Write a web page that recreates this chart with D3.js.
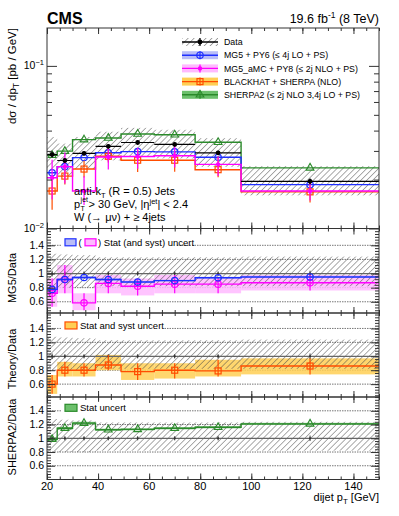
<!DOCTYPE html>
<html>
<head>
<meta charset="utf-8">
<script src="https://cdn.jsdelivr.net/npm/d3@7"></script>
<style>
  body { margin: 0; background: #fff; }
  svg text { font-family: "Liberation Sans", Arial, Helvetica, sans-serif; fill: #000; }
</style>
</head>
<body>
<svg id="chart" width="399" height="516"></svg>
<script>
// dijet pT bins [GeV]
const binEdges = [20, 24, 30, 39, 49, 62, 78, 96, 150];

// main panel: dsigma/dpT [pb/GeV]
const dataXsec = [0.0285, 0.0262, 0.0290, 0.0320, 0.0338, 0.0329, 0.0292, 0.0195];
const dataStat = [0.04, 0.03, 0.03, 0.03, 0.03, 0.03, 0.03, 0.04];
const dataSystUp = [0.28, 0.27, 0.26, 0.23, 0.23, 0.23, 0.23, 0.24];
const dataSystDown = [0.20, 0.20, 0.20, 0.18, 0.18, 0.18, 0.18, 0.18];
const mg5Xsec = [0.0220, 0.0240, 0.0273, 0.0292, 0.0297, 0.0296, 0.0274, 0.0186];
const amcXsec = [0.0205, 0.0240, 0.0170, 0.0275, 0.0277, 0.0280, 0.0248, 0.0170];
const bhXsec = [0.0170, 0.0210, 0.0232, 0.0278, 0.0263, 0.0263, 0.0230, 0.0168];
const sh2Xsec = [0.0282, 0.0299, 0.0352, 0.0360, 0.0381, 0.0377, 0.0339, 0.0236];

// ratio panels: theory / data
const mg5Ratio = [0.775, 0.915, 0.944, 0.915, 0.88, 0.90, 0.94, 0.952];
const mg5Stat = [0.03, 0.02, 0.02, 0.02, 0.015, 0.015, 0.015, 0.015];
const amcRatio = [0.72, 0.915, 0.585, 0.86, 0.82, 0.85, 0.85, 0.87];
const amcLow = [0.53, 0.72, 0.48, 0.72, 0.69, 0.72, 0.72, 0.76];
const amcHigh = [0.93, 1.12, 0.72, 0.98, 0.93, 0.98, 0.95, 0.98];
const bhRatio = [0.60, 0.80, 0.80, 0.875, 0.78, 0.80, 0.79, 0.86];
const bhLow = [0.46, 0.71, 0.71, 0.80, 0.66, 0.68, 0.71, 0.74];
const bhHigh = [0.73, 0.92, 0.90, 1.02, 0.90, 0.90, 0.95, 0.97];
const sh2Ratio = [0.985, 1.145, 1.22, 1.125, 1.13, 1.145, 1.16, 1.21];
const sh2Stat = [0.025, 0.02, 0.02, 0.015, 0.015, 0.015, 0.015, 0.015];

const xMajor = [20, 40, 60, 80, 100, 120, 140];
const ratioMajor = [0.6, 0.8, 1, 1.2, 1.4];

const legendLabels = [
  "Data",
  "MG5 + PY6 (\u2264 4j LO + PS)",
  "MG5_aMC + PY8 (\u2264 2j NLO + PS)",
  "BLACKHAT + SHERPA (NLO)",
  "SHERPA2 (\u2264 2j NLO 3,4j LO + PS)",
];

const col = {
  mg5: "#1f2fff", mg5Fill: "#b9bdf7",
  amc: "#ff00ff", amcFill: "#ffbaff",
  bh: "#ff4d00", bhFill: "#ffcf55",
  sh2: "#2a8a2a", sh2Fill: "#6cc06c",
};

const left = 47, right = 379;
const mainTop = 28, mainBottom = 228.5;
const panels = [
  { top: 228.5, bottom: 313, domain: [0.441, 1.638], label: "MG5/Data", labelY: 278 },
  { top: 313, bottom: 397, domain: [0.415, 1.622], label: "Theory/Data", labelY: 359 },
  { top: 397, bottom: 479.5, domain: [0.40, 1.601], label: "SHERPA2/Data", labelY: 437 },
];

const svg = d3.select("#chart");
const defs = svg.append("defs");
const pat = defs.append("pattern").attr("id", "hatch")
  .attr("patternUnits", "userSpaceOnUse")
  .attr("width", 4.2).attr("height", 4.2)
  .attr("patternTransform", "rotate(45)");
pat.append("line").attr("x1", 0).attr("y1", 0).attr("x2", 0).attr("y2", 4.2)
  .attr("stroke", "#444").attr("stroke-width", 0.9);

const x = d3.scaleLinear().domain([20, 150]).range([left, right]);
const bins = d3.range(binEdges.length - 1).map(i => ({
  i, lo: binEdges[i], hi: binEdges[i + 1], c: (binEdges[i] + binEdges[i + 1]) / 2,
}));

function stepPoints(vals) {
  const pts = [];
  vals.forEach((v, i) => { pts.push([binEdges[i], v]); pts.push([binEdges[i + 1], v]); });
  return pts;
}

function clipFor(id, top, bottom) {
  defs.append("clipPath").attr("id", id).append("rect")
    .attr("x", left).attr("y", top).attr("width", right - left).attr("height", bottom - top);
}

function xTicks(g, top, bottom) {
  const minor = d3.range(20, 151, 5);
  const mk = (axisFn, y0, vals, len) => g.append("g").attr("transform", `translate(0,${y0})`)
    .call(axisFn(x).tickValues(vals).tickSize(-len).tickFormat(""))
    .call(s => s.select(".domain").remove());
  mk(d3.axisBottom, bottom, minor, 3);
  mk(d3.axisBottom, bottom, xMajor, 6);
  mk(d3.axisTop, top, minor, 3);
  mk(d3.axisTop, top, xMajor, 6);
  g.selectAll("line").attr("stroke", "#333");
}

function frame(top, bottom) {
  svg.append("rect").attr("x", left).attr("y", top).attr("width", right - left)
    .attr("height", bottom - top).attr("fill", "none").attr("stroke", "#333").attr("stroke-width", 1);
}

function marker(g, type, cx, cy, color) {
  if (type === "circle") {
    g.append("circle").attr("cx", cx).attr("cy", cy).attr("r", 3.2)
      .attr("fill", "none").attr("stroke", color).attr("stroke-width", 1.2);
  } else if (type === "dot") {
    g.append("circle").attr("cx", cx).attr("cy", cy).attr("r", 2.2).attr("fill", color);
  } else if (type === "square") {
    g.append("rect").attr("x", cx - 3).attr("y", cy - 3).attr("width", 6).attr("height", 6)
      .attr("fill", "none").attr("stroke", color).attr("stroke-width", 1.2);
  } else if (type === "triangle") {
    g.append("path").attr("d", d3.symbol().type(d3.symbolTriangle).size(26)())
      .attr("transform", `translate(${cx},${cy})`)
      .attr("fill", "none").attr("stroke", color).attr("stroke-width", 1.1);
  } else if (type === "data") {
    g.append("circle").attr("cx", cx).attr("cy", cy).attr("r", 2.4).attr("fill", "#000");
  }
}

function vbar(g, cx, y1, y2, color, w) {
  g.append("line").attr("x1", cx).attr("x2", cx).attr("y1", y1).attr("y2", y2)
    .attr("stroke", color).attr("stroke-width", w || 1.2);
}

// ---------- main panel ----------
const yMain = d3.scaleLog().domain([0.01, 0.171]).range([mainBottom, mainTop]);
clipFor("clipMain", mainTop, mainBottom);
const gMain = svg.append("g").attr("clip-path", "url(#clipMain)");

gMain.selectAll("rect.syst").data(bins).join("rect")
  .attr("x", d => x(d.lo)).attr("width", d => x(d.hi) - x(d.lo))
  .attr("y", d => yMain(dataXsec[d.i] * (1 + dataSystUp[d.i])))
  .attr("height", d => yMain(dataXsec[d.i] * (1 - dataSystDown[d.i])) - yMain(dataXsec[d.i] * (1 + dataSystUp[d.i])))
  .attr("fill", "url(#hatch)");

const lineMain = d3.line().x(d => x(d[0])).y(d => yMain(d[1]));
const mainSeries = [
  { vals: sh2Xsec, color: col.sh2, type: "triangle" },
  { vals: mg5Xsec, color: col.mg5, type: "circle" },
  { vals: bhXsec, color: col.bh, type: "square", lo: bhLow, hi: bhHigh, r: bhRatio },
  { vals: amcXsec, color: col.amc, type: "dot", lo: amcLow, hi: amcHigh, r: amcRatio },
];
mainSeries.forEach(s => {
  gMain.append("path").attr("d", lineMain(stepPoints(s.vals)))
    .attr("fill", "none").attr("stroke", s.color).attr("stroke-width", 1.4);
  bins.forEach(b => {
    if (s.lo) vbar(gMain, x(b.c), yMain(s.vals[b.i] * s.lo[b.i] / s.r[b.i]), yMain(s.vals[b.i] * s.hi[b.i] / s.r[b.i]), s.color);
    marker(gMain, s.type, x(b.c), yMain(s.vals[b.i]), s.color);
  });
});
bins.forEach(b => {
  const v = dataXsec[b.i];
  gMain.append("line").attr("x1", x(b.lo)).attr("x2", x(b.hi)).attr("y1", yMain(v)).attr("y2", yMain(v))
    .attr("stroke", "#000").attr("stroke-width", 1.2);
  vbar(gMain, x(b.c), yMain(v * (1 - dataStat[b.i])), yMain(v * (1 + dataStat[b.i])), "#000");
  marker(gMain, "data", x(b.c), yMain(v), "#000");
});

// main axes
const gMainAx = svg.append("g");
xTicks(gMainAx, mainTop, mainBottom);
const logMinor = [0.02, 0.03, 0.04, 0.05, 0.06, 0.07, 0.08, 0.09];
[[d3.axisLeft, left], [d3.axisRight, right]].forEach(([fn, x0]) => {
  gMainAx.append("g").attr("transform", `translate(${x0},0)`)
    .call(fn(yMain).tickValues(logMinor).tickSize(-5).tickFormat(""))
    .call(s => s.select(".domain").remove());
  gMainAx.append("g").attr("transform", `translate(${x0},0)`)
    .call(fn(yMain).tickValues([0.01, 0.1]).tickSize(-10).tickFormat(""))
    .call(s => s.select(".domain").remove());
});
gMainAx.selectAll("line").attr("stroke", "#333");
[[0.1, "\u22121"], [0.01, "\u22122"]].forEach(([v, e]) => {
  const t = svg.append("text").attr("x", 44).attr("y", yMain(v) + 3.5)
    .attr("text-anchor", "end").attr("font-size", 10.5);
  t.append("tspan").text("10");
  t.append("tspan").attr("dy", -4.5).attr("font-size", 7.5).text(e);
});
frame(mainTop, mainBottom);

// main legend
const legX0 = 182, legX1 = 218, legY0 = 42, legDy = 13.2;
const legendSpecs = [
  { fill: "url(#hatch)", color: "#000", type: "data" },
  { fill: col.mg5Fill, color: col.mg5, type: "circle" },
  { fill: col.amcFill, color: col.amc, type: "dot" },
  { fill: col.bhFill, color: col.bh, type: "square" },
  { fill: col.sh2Fill, color: col.sh2, type: "triangle" },
];
const gLeg = svg.append("g");
legendSpecs.forEach((s, i) => {
  const cy = legY0 + i * legDy;
  gLeg.append("rect").attr("x", legX0).attr("y", cy - 4).attr("width", legX1 - legX0).attr("height", 8)
    .attr("fill", s.fill);
  gLeg.append("line").attr("x1", legX0).attr("x2", legX1).attr("y1", cy).attr("y2", cy)
    .attr("stroke", s.color).attr("stroke-width", 1.4);
  const mx = (legX0 + legX1) / 2;
  vbar(gLeg, mx, cy - 4, cy + 4, s.color);
  marker(gLeg, s.type, mx, cy, s.color);
  gLeg.append("text").attr("x", 224).attr("y", cy + 3.2).attr("font-size", 8.8).text(legendLabels[i]);
});

// annotation
const ann = svg.append("g").attr("font-size", 11);
const a1 = ann.append("text").attr("x", 74).attr("y", 195);
a1.append("tspan").text("anti-k");
a1.append("tspan").attr("dy", 2.5).attr("font-size", 7.5).text("T");
a1.append("tspan").attr("dy", -2.5).text(" (R = 0.5) Jets");
// second line: p_T^jet stacked, built from separate pieces
ann.append("text").attr("x", 74).attr("y", 208).text("p");
ann.append("text").attr("x", 80.6).attr("y", 202.3).attr("font-size", 7).text("jet");
ann.append("text").attr("x", 80.6).attr("y", 211.2).attr("font-size", 7).text("T");
const a2 = ann.append("text").attr("x", 88.6).attr("y", 208);
a2.append("tspan").text(" > 30 GeV, |\u03b7");
a2.append("tspan").attr("dy", -4.5).attr("font-size", 7.5).text("jet");
a2.append("tspan").attr("dy", 4.5).text("| < 2.4");
ann.append("text").attr("x", 74).attr("y", 221).text("W (\u2192 \u03bc\u03bd) + \u2265 4jets");

// titles
svg.append("text").attr("x", 47).attr("y", 23.5).attr("font-size", 16).attr("font-weight", "bold").text("CMS");
const lumi = svg.append("text").attr("x", 379).attr("y", 22.7).attr("text-anchor", "end").attr("font-size", 12.5);
lumi.append("tspan").text("19.6 fb");
lumi.append("tspan").attr("dy", -5).attr("font-size", 8.5).text("-1");
lumi.append("tspan").attr("dy", 5).text(" (8 TeV)");

const yl = svg.append("text").attr("transform", `translate(16,${mainTop}) rotate(-90)`)
  .attr("text-anchor", "end").attr("font-size", 11.5);
yl.append("tspan").text("d\u03c3 / dp");
yl.append("tspan").attr("dy", 3).attr("font-size", 8.5).text("T");
yl.append("tspan").attr("dy", -3).text("  [pb / GeV]");

// ---------- ratio panels ----------
const panelContent = [
  [
    { bandLo: mg5Ratio.map((v, i) => v - mg5Stat[i]), bandHi: mg5Ratio.map((v, i) => v + mg5Stat[i]), vals: mg5Ratio, color: col.mg5, fill: col.mg5Fill, type: "circle" },
    { bandLo: amcLow, bandHi: amcHigh, vals: amcRatio, color: col.amc, fill: col.amcFill, type: "circle", bars: true },
  ],
  [
    { bandLo: bhLow, bandHi: bhHigh, vals: bhRatio, color: col.bh, fill: col.bhFill, type: "square", bars: true },
  ],
  [
    { bandLo: sh2Ratio.map((v, i) => v - sh2Stat[i]), bandHi: sh2Ratio.map((v, i) => v + sh2Stat[i]), vals: sh2Ratio, color: col.sh2, fill: col.sh2Fill, type: "triangle" },
  ],
];

panels.forEach((p, pi) => {
  const y = d3.scaleLinear().domain(p.domain).range([p.bottom, p.top]);
  const id = "clipR" + pi;
  clipFor(id, p.top, p.bottom);
  const g = svg.append("g").attr("clip-path", `url(#${id})`);

  // reference lines
  [0.6, 0.8, 1.2, 1.4].forEach(v => {
    g.append("line").attr("x1", left).attr("x2", right).attr("y1", y(v)).attr("y2", y(v))
      .attr("stroke", "#777").attr("stroke-width", 1).attr("stroke-dasharray", "1.5,1");
  });

  const series = panelContent[pi];
  series.slice().reverse().forEach(s => {
    g.selectAll(null).data(bins).join("rect")
      .attr("x", d => x(d.lo)).attr("width", d => x(d.hi) - x(d.lo))
      .attr("y", d => y(s.bandHi[d.i])).attr("height", d => y(s.bandLo[d.i]) - y(s.bandHi[d.i]))
      .attr("fill", s.fill).attr("fill-opacity", 0.85);
  });

  g.selectAll(null).data(bins).join("rect")
    .attr("x", d => x(d.lo)).attr("width", d => x(d.hi) - x(d.lo))
    .attr("y", d => y(1 + dataSystUp[d.i])).attr("height", d => y(1 - dataSystDown[d.i]) - y(1 + dataSystUp[d.i]))
    .attr("fill", "url(#hatch)");

  g.append("line").attr("x1", left).attr("x2", right).attr("y1", y(1)).attr("y2", y(1))
    .attr("stroke", "#666").attr("stroke-width", 1.2);

  bins.forEach(b => {
    vbar(g, x(b.c), y(1 - dataStat[b.i]), y(1 + dataStat[b.i]), "#333", 1);
    g.append("circle").attr("cx", x(b.c)).attr("cy", y(1)).attr("r", 1.1).attr("fill", "#333");
  });

  const lineR = d3.line().x(d => x(d[0])).y(d => y(d[1]));
  series.slice().reverse().forEach(s => {
    g.append("path").attr("d", lineR(stepPoints(s.vals)))
      .attr("fill", "none").attr("stroke", s.color).attr("stroke-width", 1.4);
    bins.forEach(b => {
      if (s.bars) vbar(g, x(b.c), y(s.bandLo[b.i]), y(s.bandHi[b.i]), s.color);
      marker(g, s.type, x(b.c), y(s.vals[b.i]), s.color);
    });
  });

  // axes
  const ga = svg.append("g");
  xTicks(ga, p.top, p.bottom);
  const minorY = d3.range(0.04, 2, 0.04).filter(v => v > p.domain[0] && v < p.domain[1]);
  [[d3.axisLeft, left], [d3.axisRight, right]].forEach(([fn, x0]) => {
    ga.append("g").attr("transform", `translate(${x0},0)`)
      .call(fn(y).tickValues(minorY).tickSize(-4).tickFormat(""))
      .call(s => s.select(".domain").remove());
    ga.append("g").attr("transform", `translate(${x0},0)`)
      .call(fn(y).tickValues(ratioMajor).tickSize(-8).tickFormat(""))
      .call(s => s.select(".domain").remove());
  });
  ga.selectAll("line").attr("stroke", "#333");
  ratioMajor.forEach(v => {
    svg.append("text").attr("x", 44).attr("y", y(v) + 3.6).attr("text-anchor", "end")
      .attr("font-size", 10.5).text(v === 1 ? "1" : d3.format(".1f")(v));
  });
  frame(p.top, p.bottom);

  svg.append("text").attr("transform", `translate(16,${p.labelY}) rotate(-90)`)
    .attr("text-anchor", "middle").attr("font-size", 11).text(p.label);

  // panel legend
  const ly = y(1.4) - 3;
  const lg = svg.append("g");
  if (pi === 0) {
    lg.append("rect").attr("x", 62).attr("y", ly - 6).attr("width", 115).attr("height", 12).attr("fill", "#fff");
    lg.append("rect").attr("x", 65).attr("y", ly - 3.5).attr("width", 11).attr("height", 7)
      .attr("fill", col.mg5Fill).attr("stroke", col.mg5).attr("stroke-width", 1.2);
    lg.append("text").attr("x", 78.5).attr("y", ly + 3.5).attr("font-size", 9.5).text("(");
    lg.append("rect").attr("x", 85).attr("y", ly - 3.5).attr("width", 11).attr("height", 7)
      .attr("fill", col.amcFill).attr("stroke", col.amc).attr("stroke-width", 1.2);
    lg.append("text").attr("x", 98).attr("y", ly + 3.5).attr("font-size", 9.5).text(") Stat (and syst) uncert");
  } else {
    const s = panelContent[pi][0];
    const label = pi === 1 ? "Stat and syst uncert" : "Stat uncert";
    lg.append("rect").attr("x", 62).attr("y", ly - 6).attr("width", pi === 1 ? 102 : 68).attr("height", 12).attr("fill", "#fff");
    lg.append("rect").attr("x", 65).attr("y", ly - 3.5).attr("width", 12).attr("height", 7)
      .attr("fill", s.fill).attr("stroke", s.color).attr("stroke-width", 1.2);
    lg.append("text").attr("x", 80).attr("y", ly + 3.5).attr("font-size", 9.5).text(label);
  }
});

// x labels on last panel
xMajor.forEach(v => {
  svg.append("text").attr("x", x(v)).attr("y", 489.5).attr("text-anchor", "middle")
    .attr("font-size", 11).text(v);
});
const xl = svg.append("text").attr("x", 379).attr("y", 501).attr("text-anchor", "end").attr("font-size", 11);
xl.append("tspan").text("dijet p");
xl.append("tspan").attr("dy", 3).attr("font-size", 8).text("T");
xl.append("tspan").attr("dy", -3).text(" [GeV]");
</script>
</body>
</html>
